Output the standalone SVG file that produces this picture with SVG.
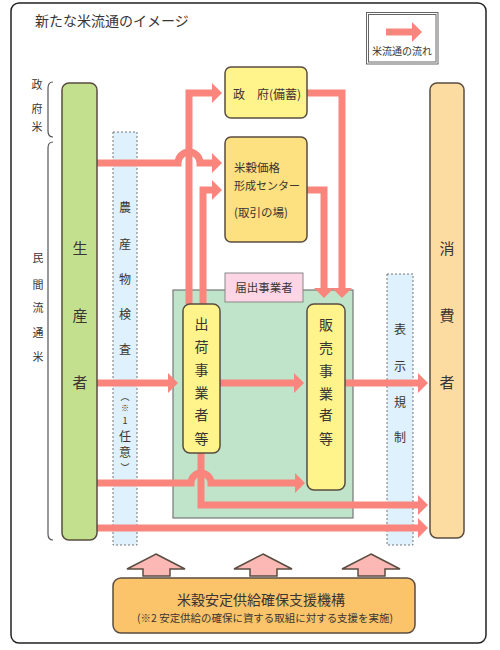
<svg xmlns="http://www.w3.org/2000/svg" width="500" height="650" viewBox="0 0 500 650">
<defs>
<style>
.t{font-family:"Noto Sans CJK JP","Noto Sans",sans-serif;fill:#3a3532;}
.c{text-anchor:middle;}
.flow{fill:none;stroke:#f9857d;stroke-width:7;}
.band{stroke:#777;stroke-width:1;stroke-dasharray:2,2;fill:#def1fc;}
.box{stroke:#5a4c40;stroke-width:1.5;}
.up{fill:#fbb8b4;stroke:#5a4c40;stroke-width:1.5;stroke-linejoin:miter;}
.brace{fill:none;stroke:#555;stroke-width:1.2;}
</style>
<marker id="ah" viewBox="0 0 10 20" markerWidth="10" markerHeight="20" refX="2" refY="10" orient="auto" markerUnits="userSpaceOnUse">
<path d="M0,0 L10,10 L0,20 z" fill="#f9857d"/>
</marker>
</defs>
<rect x="0" y="0" width="500" height="650" fill="#ffffff"/>
<rect x="11" y="3" width="475" height="640" rx="8" fill="#ffffff" stroke="#222" stroke-width="1.5"/>

<text class="t" x="35" y="26" font-size="14" fill="#555">新たな米流通のイメージ</text>

<g id="legend">
<rect x="366.5" y="12.5" width="71.5" height="51.5" fill="#fff" stroke="#666" stroke-width="1"/>
<rect x="368.5" y="14.5" width="67.5" height="47.5" fill="none" stroke="#666" stroke-width="1"/>
<path d="M386,32 H414" stroke="#f9857d" stroke-width="7" fill="none" marker-end="url(#ah)"/>
<text class="t c" x="402" y="55" font-size="10">米流通の流れ</text>
</g>

<g id="labels">
<text class="t c" x="37" y="89" font-size="11">政</text>
<text class="t c" x="37" y="113" font-size="11">府</text>
<text class="t c" x="37" y="131" font-size="11">米</text>
<path class="brace" d="M53,82 Q48,82 48,88 V131 Q48,137 53,137"/>
<text class="t c" x="38" y="262" font-size="11">民</text>
<text class="t c" x="38" y="289" font-size="11">間</text>
<text class="t c" x="38" y="312" font-size="11">流</text>
<text class="t c" x="38" y="337" font-size="11">通</text>
<text class="t c" x="38" y="361" font-size="11">米</text>
<path class="brace" d="M53,142 Q48,142 48,148 V534 Q48,540 53,540"/>
</g>

<g id="inspection">
<rect class="band" x="113" y="132" width="24" height="413"/>
<text class="t c" x="125" y="212" font-size="12">農</text>
<text class="t c" x="125" y="249" font-size="12">産</text>
<text class="t c" x="125" y="284" font-size="12">物</text>
<text class="t c" x="125" y="319" font-size="12">検</text>
<text class="t c" x="125" y="354" font-size="12">査</text>
<text class="t c" x="125" y="400" font-size="9">︵</text>
<text class="t c" x="125" y="411" font-size="8">※</text>
<text class="t c" x="125" y="424" font-size="9">1</text>
<text class="t c" x="125" y="441" font-size="12">任</text>
<text class="t c" x="125" y="457" font-size="12">意</text>
<text class="t c" x="125" y="471" font-size="9">︶</text>
</g>

<g id="display">
<rect class="band" x="387" y="274" width="26" height="271"/>
<text class="t c" x="400" y="334" font-size="12">表</text>
<text class="t c" x="400" y="371" font-size="12">示</text>
<text class="t c" x="400" y="407" font-size="12">規</text>
<text class="t c" x="400" y="442" font-size="12">制</text>
</g>

<g id="registered">
<rect x="173" y="290" width="180" height="228" fill="#bfe4c9" stroke="#777" stroke-width="1.2"/>
<rect x="225" y="273" width="78" height="29" fill="#fdd6e6" stroke="#888" stroke-width="1"/>
<text class="t c" x="264" y="292" font-size="11.5">届出事業者</text>
</g>

<g id="connectors">
<path class="flow" d="M189,304 V93 H214" marker-end="url(#ah)"/>
<path class="flow" d="M97,163 H178 A11,11 0 0 1 200,163 H214" marker-end="url(#ah)"/>
<path class="flow" d="M203,304 V190 H214" marker-end="url(#ah)"/>
<path class="flow" d="M307,93 H342 V290" marker-end="url(#ah)"/>
<path class="flow" d="M307,190 H324 V290" marker-end="url(#ah)"/>
<path class="flow" d="M97,383 H170" marker-end="url(#ah)"/>
<path class="flow" d="M220,383 H296" marker-end="url(#ah)"/>
<path class="flow" d="M345,383 H420" marker-end="url(#ah)"/>
<path class="flow" d="M97,483 H191 A10,10 0 0 1 211,483 H297" marker-end="url(#ah)"/>
<path class="flow" d="M201,453 V505 H420" marker-end="url(#ah)"/>
<path class="flow" d="M97,528 H420" marker-end="url(#ah)"/>
</g>

<g id="producer">
<rect class="box" x="62" y="83" width="35" height="457" rx="7" fill="#c3e08f"/>
<text class="t c" x="80" y="254" font-size="15">生</text>
<text class="t c" x="80" y="321" font-size="15">産</text>
<text class="t c" x="80" y="388" font-size="15">者</text>
</g>

<g id="consumer">
<rect class="box" x="430" y="83" width="34" height="455" rx="7" fill="#fddca2"/>
<text class="t c" x="447" y="254" font-size="15">消</text>
<text class="t c" x="447" y="321" font-size="15">費</text>
<text class="t c" x="447" y="388" font-size="15">者</text>
</g>

<g id="government">
<rect class="box" x="225" y="67" width="82" height="51" rx="6" fill="#fff48c"/>
<text class="t" x="233" y="99" font-size="12">政　府(備蓄)</text>
</g>

<g id="center">
<rect class="box" x="225" y="137" width="82" height="105" rx="6" fill="#fde07f"/>
<text class="t" x="234" y="172" font-size="11.5">米穀価格</text>
<text class="t" x="234" y="190" font-size="11">形成センター</text>
<text class="t" x="234" y="217" font-size="11.5">(取引の場)</text>
</g>

<g id="shipper">
<rect class="box" x="183" y="304" width="37" height="149" rx="7" fill="#fff48c"/>
<text class="t c" x="201.5" y="329" font-size="14">出</text>
<text class="t c" x="201.5" y="352" font-size="14">荷</text>
<text class="t c" x="201.5" y="375" font-size="14">事</text>
<text class="t c" x="201.5" y="398" font-size="14">業</text>
<text class="t c" x="201.5" y="420" font-size="14">者</text>
<text class="t c" x="201.5" y="444" font-size="14">等</text>
</g>

<g id="seller">
<rect class="box" x="307" y="304" width="38" height="186" rx="7" fill="#fff48c"/>
<text class="t c" x="326" y="330" font-size="14">販</text>
<text class="t c" x="326" y="353" font-size="14">売</text>
<text class="t c" x="326" y="376" font-size="14">事</text>
<text class="t c" x="326" y="399" font-size="14">業</text>
<text class="t c" x="326" y="420" font-size="14">者</text>
<text class="t c" x="326" y="444" font-size="14">等</text>
</g>

<g id="support-arrows">
<path class="up" d="M156,554 L185,569 L170,569 L170,576 L143,576 L143,569 L127,569 Z"/>
<path class="up" d="M263,554 L292,569 L277,569 L277,576 L250,576 L250,569 L234,569 Z"/>
<path class="up" d="M371,554 L400,569 L385,569 L385,576 L358,576 L358,569 L342,569 Z"/>
</g>

<g id="support">
<rect class="box" x="113" y="578" width="302" height="55" rx="8" fill="#fbc46b"/>
<text class="t c" x="261" y="605" font-size="14">米穀安定供給確保支援機構</text>
<text class="t" x="137" y="622" font-size="10.5" textLength="256" lengthAdjust="spacingAndGlyphs">(※2 安定供給の確保に資する取組に対する支援を実施)</text>
</g>
</svg>
